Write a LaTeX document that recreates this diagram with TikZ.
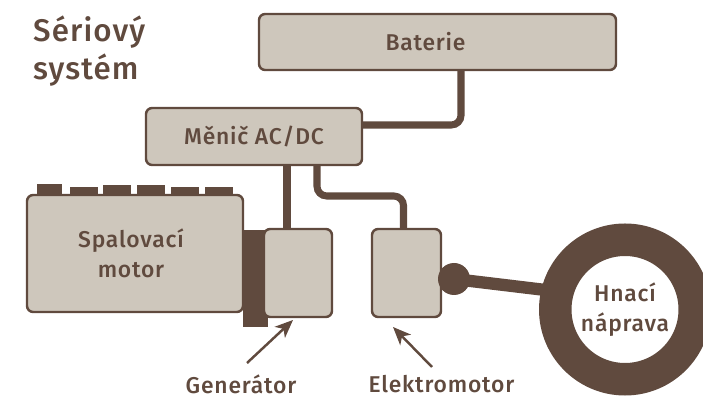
\documentclass[tikz,border=0pt]{standalone}
\usepackage{fontspec}
\setmainfont[LetterSpace=3.5]{Fira Sans Medium}
\usetikzlibrary{arrows.meta,calc}
\definecolor{SerBrown}{RGB}{96,74,62}
\definecolor{SerSand}{RGB}{206,199,188}
\tikzset{
  ser/box/.style={
    draw=SerBrown,
    line width=1.4pt,
    rounded corners=3.5pt,
    fill=SerSand,
    align=center,
    text=SerBrown,
    inner sep=0pt,
    outer sep=0pt,
    font=\fontsize{13}{17.3}\selectfont
  },
  ser/solid/.style={fill=SerBrown, inner sep=0pt, outer sep=0pt},
  ser/wire/.style={draw=SerBrown, line width=4pt, rounded corners=5.5pt},
  ser/shaft/.style={draw=SerBrown, line width=7pt},
  ser/pointer/.style={-{Stealth[length=3.6mm,width=3mm,inset=1mm]}, draw=SerBrown, line width=1.4pt},
  ser/label/.style={font=\fontsize{13}{17.3}\selectfont, text=SerBrown, align=center},
  ser/title/.style={font=\fontsize{17.8}{21.6}\selectfont, text=SerBrown, align=left}
}
\begin{document}
\begin{tikzpicture}[x=1cm,y=1cm]
  \useasboundingbox (0,0) rectangle (14.06,7.94);
  \clip (0,0) rectangle (14.06,7.94);
  \node[ser/title,anchor=north west] (title) at (0.54,7.75) {Sériový\\systém};
  \node[ser/box,minimum width=7.14cm,minimum height=1.12cm] (baterie) at (8.75,7.10) {Baterie\hspace*{0.48cm}};
  \node[ser/box,minimum width=4.32cm,minimum height=1.14cm] (menic) at (5.08,5.21) {Měnič AC/DC};
  \node[ser/box,minimum width=4.32cm,minimum height=2.34cm] (spalovaci) at (2.70,2.87) {Spalovací\hspace*{0.16cm}\\motor\hspace*{0.16cm}};
  \foreach \x/\w/\h [count=\i] in {0.99/0.50/0.22,1.68/0.56/0.16,2.34/0.56/0.20,3.02/0.56/0.20,3.70/0.56/0.16,4.38/0.56/0.16}
    \node[ser/solid,anchor=south,minimum width=\w cm,minimum height=\h cm] (zub\i) at (\x,4.04) {};
  \node[ser/solid,minimum width=0.50cm,minimum height=1.94cm] (spojka) at (5.11,2.37) {};
  \node[ser/box,minimum width=1.36cm,minimum height=1.76cm] (generator) at (5.96,2.48) {};
  \node[ser/box,minimum width=1.38cm,minimum height=1.76cm] (elektromotor) at (8.13,2.48) {};
  \node[circle,draw=SerBrown,line width=0.65cm,fill=white,minimum size=2.79cm,inner sep=0pt,outer sep=0pt,align=center,text=SerBrown,font=\fontsize{13}{17.3}\selectfont] (naprava) at (12.50,1.75) {Hnací\\náprava};
  \node[ser/solid,circle,minimum size=0.64cm] (kloub) at (9.08,2.36) {};
  \node[ser/label] (genlabel) at (4.82,0.25) {Generátor};
  \node[ser/label] (motlabel) at (8.83,0.25) {Elektromotor};
  % wires
  \coordinate (batturn) at (9.22,5.44);
  \coordinate (genin) at (5.74,3.36);
  \coordinate (motleft) at (6.34,4.02);
  \coordinate (motright) at (8.07,4.02);
  \draw[ser/wire] (baterie.south -| batturn) -- (batturn) -- (menic.east |- batturn);
  \draw[ser/wire] (menic.south -| genin) -- (genin);
  \draw[ser/wire] (menic.south -| motleft) -- (motleft) -- (motright) -- (elektromotor.north -| motright);
  \draw[ser/shaft] (kloub.center) -- (naprava.165);
  % pointers
  \coordinate (genfrom) at (4.94,0.68);
  \coordinate (motfrom) at (8.64,0.60);
  \draw[ser/pointer] (genfrom) -- ($(generator.south)+(-0.10,-0.06)$);
  \draw[ser/pointer] (motfrom) -- ($(elektromotor.south)+(-0.27,-0.20)$);
\end{tikzpicture}
\end{document}
